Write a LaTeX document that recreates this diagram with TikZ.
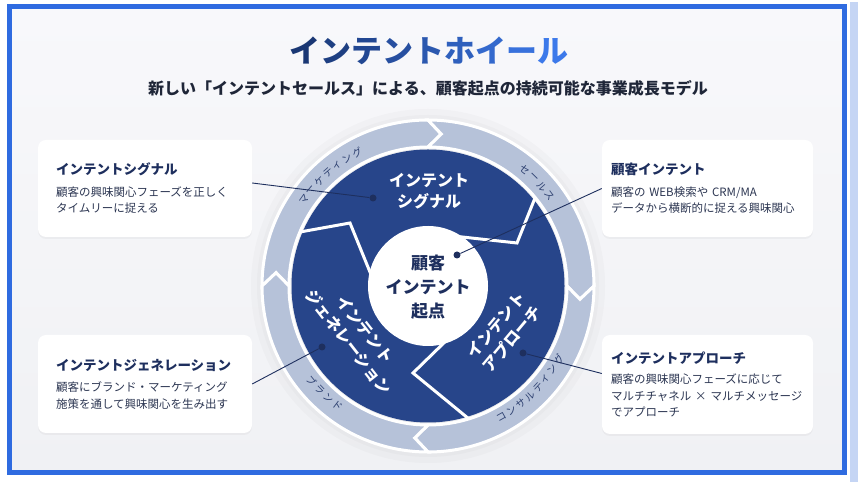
\documentclass[tikz,border=0pt]{standalone}
\usepackage{fontspec}
\setmainfont{Noto Sans CJK JP}
\usetikzlibrary{shadows,calc}

\definecolor{navy}{HTML}{1E2F5E}
\definecolor{wheeldark}{HTML}{27458A}
\definecolor{wheelring}{HTML}{B6C2D9}
\definecolor{framebl}{HTML}{2F6BE0}
\definecolor{stripbl}{HTML}{C5D5F4}
\definecolor{paneltop}{HTML}{F8F8FB}
\definecolor{panelbot}{HTML}{F0F1F4}
\definecolor{bodytxt}{HTML}{2C3652}
\definecolor{subtxt}{HTML}{1F2638}
\definecolor{ringtxt}{HTML}{2D4070}
\definecolor{ttlA}{HTML}{1A3774}
\definecolor{ttlB}{HTML}{3C79EA}

\newcommand{\cardttl}{\fontsize{13.5}{17}\selectfont\bfseries\color{navy}}
\newcommand{\ttlch}[2]{\textcolor{ttlB!#1!ttlA}{#2}}

\tikzset{
  card/.style={fill=white, rounded corners=8pt, align=left, minimum height=97pt,
    font=\fontsize{11.5}{16.5}\selectfont, text=bodytxt,
    drop shadow={opacity=0.07, shadow xshift=0pt, shadow yshift=-2pt}},
  link/.style={draw=navy, line width=0.9pt},
  dot/.style={circle, fill=navy, inner sep=0pt, minimum size=7pt},
  sector/.style={text=white, font=\fontsize{16}{21}\selectfont\bfseries, align=center},
  ringlbl/.style={text=ringtxt, font=\fontsize{10}{10}\selectfont, inner sep=0pt},
  cut/.style={draw=white, line width=3pt, line join=miter}
}

\begin{document}
\begin{tikzpicture}[x=1pt,y=1pt]
\useasboundingbox (0,0) rectangle (867,489);
\fill[white] (0,0) rectangle (867,489);

% frame
\shade[top color=paneltop, bottom color=panelbot] (9.5,16.5) rectangle (844.5,482);
\draw[framebl, line width=5pt] (9.5,16.5) rectangle (844.5,482);
\fill[stripbl] (850,7) rectangle (858,487);

% title
\node[font=\fontsize{31}{31}\selectfont\bfseries] (title) at (429,438)
  {\ttlch{0}{イ}\ttlch{12}{ン}\ttlch{25}{テ}\ttlch{37}{ン}\ttlch{50}{ト}\ttlch{62}{ホ}\ttlch{75}{イ}\ttlch{88}{ー}\ttlch{100}{ル}};
\node[font=\fontsize{16}{16}\selectfont\bfseries, text=subtxt] (subtitle) at (428,401)
  {新しい「インテントセールス」による、顧客起点の持続可能な事業成長モデル};

% wheel
\begin{scope}[shift={(428,203)}]
\fill[black!50, opacity=0.04] (0,0) circle[radius=177];
\fill[black!50, opacity=0.04] (0,0) circle[radius=171];

\foreach \a in {180,90,0,-90}
  \filldraw[fill=wheelring, draw=white, line width=3pt]
    (\a:166) -- ({\a-5}:152.5) -- (\a:139)
    arc[start angle=\a, end angle=\a-90, radius=139]
    -- ({\a-95}:152.5) -- ({\a-90}:166)
    arc[start angle=\a-90, end angle=\a, radius=166] -- cycle;

\fill[wheeldark] (0,0) circle[radius=136.5];
\draw[cut] (-56,9) -- (-78,63) -- (-128,54);
\draw[cut] (25,50) -- (89,43) -- (107,88);
\draw[cut] (24,-49) -- (-15,-87) -- (41,-133);
\fill[white] (0,0) circle[radius=60];

\node[sector] (signal) at (1,95) {インテント\\シグナル};
\node[sector, rotate=50] (approach) at (76,-46) {インテント\\アプローチ};
\node[sector, rotate=-52] (generation) at (-71,-50) {インテント\\ジェネレーション};
\node[font=\fontsize{17}{24}\selectfont\bfseries, text=navy, align=center] (core) at (0,-1)
  {顧客\\インテント\\起点};

% ring labels
\foreach \ch [count=\i, evaluate=\i as \ang using 131.5+(4-\i)*4.5] in {マ,ー,ケ,テ,ィ,ン,グ}
  \node[ringlbl, rotate=\ang-90] (mk\i) at (\ang:151) {\ch};
\foreach \ch [count=\i, evaluate=\i as \ang using 43.5+(2.5-\i)*4.5] in {セ,ー,ル,ス}
  \node[ringlbl, rotate=\ang-90] (sl\i) at (\ang:151) {\ch};
\foreach \ch [count=\i, evaluate=\i as \ang using -45+(\i-4.5)*4.5] in {コ,ン,サ,ル,テ,ィ,ン,グ}
  \node[ringlbl, rotate=\ang+90] (cs\i) at (\ang:150) {\ch};
\foreach \ch [count=\i, evaluate=\i as \ang using -134+(\i-2.5)*4.5] in {ブ,ラ,ン,ド}
  \node[ringlbl, rotate=\ang+90] (br\i) at (\ang:150) {\ch};
\end{scope}

% cards
\node[card, text width=178pt, inner xsep=18pt] (sigcard) at (145,300.5)
  {{\cardttl インテントシグナル}\\[5pt]顧客の興味関心フェーズを正しく\\タイムリーに捉える};
\node[card, text width=193pt, inner xsep=9pt] (custcard) at (707.5,300.5)
  {{\cardttl 顧客インテント}\\[5pt]顧客の WEB検索や CRM/MA\\データから横断的に捉える興味関心};
\node[card, text width=178pt, inner xsep=18pt, minimum height=98pt] (gencard) at (145,105)
  {{\cardttl インテントジェネレーション}\\[5pt]顧客にブランド・マーケティング\\施策を通して興味関心を生み出す};
\node[card, text width=193pt, inner xsep=9pt, minimum height=99pt] (appcard) at (707.5,104.5)
  {{\cardttl インテントアプローチ}\\[4pt]顧客の興味関心フェーズに応じて\\\mbox{マルチチャネル × マルチメッセージ}\\でアプローチ};

% dots and links
\node[dot] (d1) at (373,291) {};
\node[dot] (d2) at (457,234) {};
\node[dot] (d3) at (322,142) {};
\node[dot] (d4) at (523,136) {};

\draw[link] ([yshift=5.5pt]sigcard.east) -- (d1);
\draw[link] (d2) -- (custcard.west);
\draw[link] (gencard.east) -- (d3);
\draw[link] (d4) -- ([yshift=11pt]appcard.west);

\end{tikzpicture}
\end{document}
